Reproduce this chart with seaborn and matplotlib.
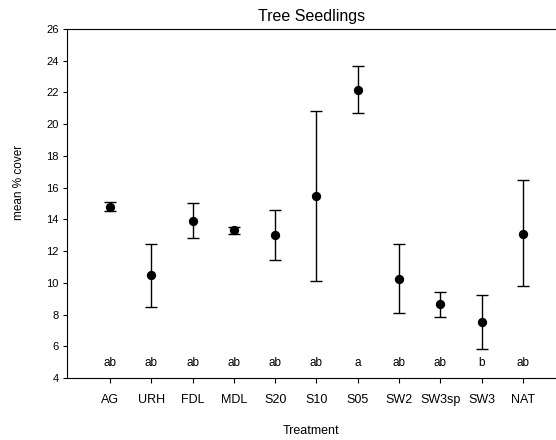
import numpy as np
import pandas as pd
import matplotlib
matplotlib.use("Agg")
import matplotlib.pyplot as plt
import seaborn as sns

# data
treatments = ["AG", "URH", "FDL", "MDL", "S20", "S10", "S05", "SW2", "SW3sp", "SW3", "NAT"]
means = [14.8, 10.5, 13.9, 13.3, 13.0, 15.45, 22.15, 10.25, 8.65, 7.55, 13.1]
lower = [14.5, 8.5, 12.8, 13.05, 11.45, 10.1, 20.7, 8.1, 7.85, 5.85, 9.8]
upper = [15.1, 12.45, 15.0, 13.5, 14.6, 20.85, 23.65, 12.45, 9.45, 9.25, 16.5]
letters = ["ab", "ab", "ab", "ab", "ab", "ab", "a", "ab", "ab", "b", "ab"]

df = pd.DataFrame({"Treatment": treatments, "mean": means, "lo": lower, "hi": upper})

sns.set_style("ticks")
plt.rcParams["font.family"] = ["Liberation Sans", "DejaVu Sans"]
plt.rcParams["text.color"] = "black"
plt.rcParams["axes.labelcolor"] = "black"
plt.rcParams["xtick.color"] = "black"
plt.rcParams["ytick.color"] = "black"

fig, ax = plt.subplots(figsize=(5.56, 4.4), dpi=100)
fig.subplots_adjust(left=0.1205, right=1.0, top=0.934, bottom=0.141)

yerr = [df["mean"] - df["lo"], df["hi"] - df["mean"]]
ax.errorbar(df["Treatment"], df["mean"], yerr=yerr, fmt="none", ecolor="black",
            elinewidth=1.0, capsize=4.5, capthick=1.0, zorder=2)
sns.scatterplot(data=df, x="Treatment", y="mean", color="black", s=45,
                edgecolor="black", linewidth=0, ax=ax, zorder=3)

for i, lab in enumerate(letters):
    ax.text(i, 4.55, lab, ha="center", va="bottom", fontsize=8.5, color="black")

ax.set_ylim(4, 26)
ax.set_yticks(np.arange(4, 27, 2))
ax.set_xlim(-1.04, 10.8)

ax.set_title("Tree Seedlings", fontsize=11.5, pad=6, color="black")
ax.set_xlabel("Treatment", fontsize=9, labelpad=14)
ax.set_ylabel("mean % cover", fontsize=8.5)
ax.yaxis.set_label_coords(-0.085, 0.56)
ax.tick_params(axis="x", labelsize=9, length=3.5, width=0.8, pad=8)
ax.tick_params(axis="y", labelsize=8, length=3, width=0.8, pad=3)

for side in ["left", "bottom", "top"]:
    ax.spines[side].set_linewidth(0.8)
    ax.spines[side].set_color("black")
ax.spines["right"].set_visible(False)

fig.savefig("out.png", dpi=100)
